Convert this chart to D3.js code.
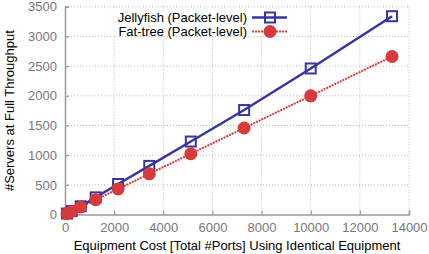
<!DOCTYPE html>
<html><head><meta charset="utf-8">
<script src="https://cdn.jsdelivr.net/npm/d3@7"></script>
<style>body{margin:0;background:#fff}svg{display:block}</style>
</head><body>
<script>
const ports = [80, 270, 640, 1250, 2160, 3430, 5120, 7290, 10000, 13310];
const jellyfish = [18, 60, 140, 290, 515, 820, 1230, 1760, 2460, 3340];
const fattree = [16, 54, 128, 250, 432, 686, 1024, 1458, 2000, 2662];
const xTicks = [0, 2000, 4000, 6000, 8000, 10000, 12000, 14000];
const yTicks = [0, 500, 1000, 1500, 2000, 2500, 3000, 3500];
const seriesNames = ["Jellyfish (Packet-level)", "Fat-tree (Packet-level)"];

const W = 429, H = 254;
const m = {l: 65, r: 20, t: 6.7, b: 39.4};
const FS = 13;
const svg = d3.select("body").append("svg").attr("width", W).attr("height", H)
  .style("font-family", "'Liberation Sans', Arial, Helvetica, sans-serif");
const x = d3.scaleLinear().domain([0, 14000]).range([m.l, W - m.r]);
const y = d3.scaleLinear().domain([0, 3500]).range([H - m.b, m.t]);

const grid = svg.append("g").attr("stroke", "#aaa").attr("stroke-width", 0.8).attr("stroke-dasharray", "1,2");
grid.selectAll(".gx").data(xTicks.slice(1)).join("line")
  .attr("x1", d => x(d)).attr("x2", d => x(d)).attr("y1", y(0)).attr("y2", y(3500));
grid.selectAll(".gy").data(yTicks.slice(1)).join("line")
  .attr("x1", x(0)).attr("x2", x(14000)).attr("y1", d => y(d)).attr("y2", d => y(d));

// legend background
svg.append("rect").attr("x", 110).attr("y", 9).attr("width", 183).attr("height", 27).attr("fill", "#fff");

const xAxis = svg.append("g").attr("transform", `translate(0,${y(0)})`)
  .call(d3.axisBottom(x).tickValues(xTicks).tickSize(-4).tickPadding(8).tickFormat(d3.format("d")));
const yAxis = svg.append("g").attr("transform", `translate(${x(0)},0)`)
  .call(d3.axisLeft(y).tickValues(yTicks).tickSize(-4).tickPadding(8).tickFormat(d3.format("d")));
[xAxis, yAxis].forEach(a => {
  a.select(".domain").attr("stroke", "#999").attr("stroke-width", 1.5);
  a.selectAll(".tick line").attr("stroke", "#999").attr("stroke-width", 1.2);
  a.selectAll("text").attr("fill", "#777").attr("font-size", FS).attr("font-family", null);
});

svg.append("text").attr("x", (x(0) + x(14000)) / 2).attr("y", 249.5).attr("text-anchor", "middle")
  .attr("font-size", FS).text("Equipment Cost [Total #Ports] Using Identical Equipment");
svg.append("text").attr("transform", `translate(14,${(y(0) + y(3500)) / 2}) rotate(-90)`)
  .attr("text-anchor", "middle").attr("font-size", FS).text("#Servers at Full Throughput");

const blue = "#3535a3", red = "#d63a3a";
const line = d3.line().x(d => x(d[0])).y(d => y(d[1]));
const jd = ports.map((p, i) => [p, jellyfish[i]]);
const fd = ports.map((p, i) => [p, fattree[i]]);

svg.append("path").datum(fd).attr("d", line).attr("fill", "none").attr("stroke", red)
  .attr("stroke-width", 2).attr("stroke-dasharray", "2,1");
svg.append("path").datum(jd).attr("d", line).attr("fill", "none").attr("stroke", blue).attr("stroke-width", 2.5);
svg.selectAll(".sq").data(jd).join("rect")
  .attr("x", d => x(d[0]) - 5).attr("y", d => y(d[1]) - 5).attr("width", 10).attr("height", 10)
  .attr("fill", "none").attr("stroke", blue).attr("stroke-width", 2);
svg.selectAll(".ci").data(fd).join("circle")
  .attr("cx", d => x(d[0])).attr("cy", d => y(d[1])).attr("r", 6.5).attr("fill", red);

// legend
const lg = svg.append("g").attr("font-size", FS);
lg.append("text").attr("x", 247).attr("y", 22).attr("text-anchor", "end").text(seriesNames[0]);
lg.append("text").attr("x", 247).attr("y", 36).attr("text-anchor", "end").text(seriesNames[1]);
lg.append("line").attr("x1", 252).attr("x2", 287).attr("y1", 17.5).attr("y2", 17.5).attr("stroke", blue).attr("stroke-width", 2.5);
lg.append("rect").attr("x", 265).attr("y", 12.5).attr("width", 10).attr("height", 10).attr("fill", "none").attr("stroke", blue).attr("stroke-width", 2);
lg.append("line").attr("x1", 252).attr("x2", 287).attr("y1", 31.5).attr("y2", 31.5).attr("stroke", red).attr("stroke-width", 2).attr("stroke-dasharray", "2,1");
lg.append("circle").attr("cx", 270).attr("cy", 31.5).attr("r", 6.5).attr("fill", red);
</script>
</body></html>
